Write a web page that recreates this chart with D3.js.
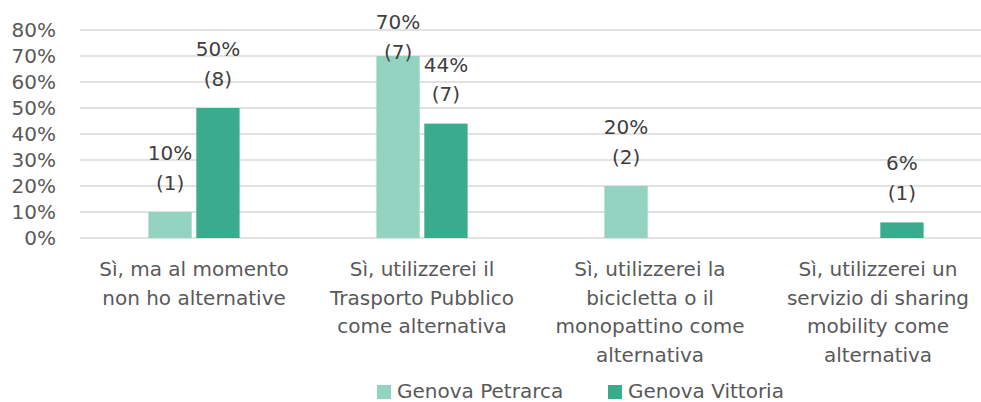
<!DOCTYPE html>
<html>
<head>
<meta charset="utf-8">
<script src="https://cdn.jsdelivr.net/npm/d3@7"></script>
<style>
  body { margin: 0; background: #fff; }
  svg { font-family: "DejaVu Sans", sans-serif; }
</style>
</head>
<body>
<div id="grafico"></div>
<script>
// dati
const categorie = [
  ["Sì, ma al momento", "non ho alternative"],
  ["Sì, utilizzerei il", "Trasporto Pubblico", "come alternativa"],
  ["Sì, utilizzerei la", "bicicletta o il", "monopattino come", "alternativa"],
  ["Sì, utilizzerei un", "servizio di sharing", "mobility come", "alternativa"]
];
const serie = ["Genova Petrarca", "Genova Vittoria"];
const petrarcaPct = [0.10, 0.70, 0.20, null];
const petrarcaN = [1, 7, 2, null];
const vittoriaPct = [0.50, 0.44, null, 0.06];
const vittoriaN = [8, 7, null, 1];
const tickY = [0, 0.1, 0.2, 0.3, 0.4, 0.5, 0.6, 0.7, 0.8];
const colori = ["#94d3c0", "#3bab8d"];

const largeur = 981, hauteur = 402;
const taille = 20; // taille police
const svg = d3.select("#grafico").append("svg")
  .attr("width", largeur).attr("height", hauteur);

const x0 = d3.scaleBand().domain(d3.range(categorie.length)).range([80, 992]);
const x1 = d3.scaleBand().domain(serie).range([-45.6, 45.6]).paddingInner(0.096);
const y = d3.scaleLinear().domain([0, 0.8]).range([238, 30]);

// griglia
svg.append("g").selectAll("line").data(tickY).join("line")
  .attr("x1", 80).attr("x2", largeur)
  .attr("y1", d => y(d)).attr("y2", d => y(d))
  .attr("stroke", "#d9d9d9").attr("stroke-width", 1.3);

// asse y
svg.append("g").selectAll("text").data(tickY).join("text")
  .attr("x", 56).attr("y", d => y(d))
  .attr("dy", "0.35em").attr("text-anchor", "end")
  .attr("font-size", taille).attr("fill", "#595959")
  .text(d => d3.format(".0%")(d));

// barre
const righe = [];
categorie.forEach((c, i) => {
  righe.push({ cat: i, s: serie[0], v: petrarcaPct[i], n: petrarcaN[i], col: colori[0] });
  righe.push({ cat: i, s: serie[1], v: vittoriaPct[i], n: vittoriaN[i], col: colori[1] });
});
const barre = righe.filter(d => d.v != null);

svg.append("g").selectAll("rect").data(barre).join("rect")
  .attr("x", d => x0(d.cat) + x0.bandwidth() / 2 + x1(d.s))
  .attr("y", d => y(d.v))
  .attr("width", x1.bandwidth())
  .attr("height", d => y(0) - y(d.v))
  .attr("fill", d => d.col);

// etichette dati
const etichette = svg.append("g").selectAll("text").data(barre).join("text")
  .attr("text-anchor", "middle")
  .attr("font-size", taille).attr("fill", "#404040")
  .attr("transform", d => {
    const cx = x0(d.cat) + x0.bandwidth() / 2 + x1(d.s) + x1.bandwidth() / 2;
    const cy = Math.max(y(d.v) - 59, 22);
    return `translate(${cx},${cy})`;
  });
etichette.append("tspan").attr("x", 0).attr("dy", "0.35em").text(d => d3.format(".0%")(d.v));
etichette.append("tspan").attr("x", 0).attr("dy", 29.5).text(d => "(" + d.n + ")");

// etichette categorie
const cat = svg.append("g").selectAll("text").data(categorie).join("text")
  .attr("text-anchor", "middle")
  .attr("font-size", taille).attr("fill", "#595959")
  .attr("transform", (d, i) => `translate(${x0(i) + x0.bandwidth() / 2},269)`);
cat.selectAll("tspan").data(d => d).join("tspan")
  .attr("x", 0).attr("y", (d, j) => j * 28.7).attr("dy", "0.35em")
  .text(d => d);

// legenda
const leg = svg.append("g").selectAll("g").data(serie).join("g")
  .attr("transform", (d, i) => `translate(${[377, 608][i]},391)`);
leg.append("rect").attr("x", 0).attr("y", -6).attr("width", 14).attr("height", 14)
  .attr("fill", (d, i) => colori[i]);
leg.append("text").attr("x", 20).attr("dy", "0.35em")
  .attr("font-size", taille).attr("fill", "#595959")
  .text(d => d);
</script>
</body>
</html>
